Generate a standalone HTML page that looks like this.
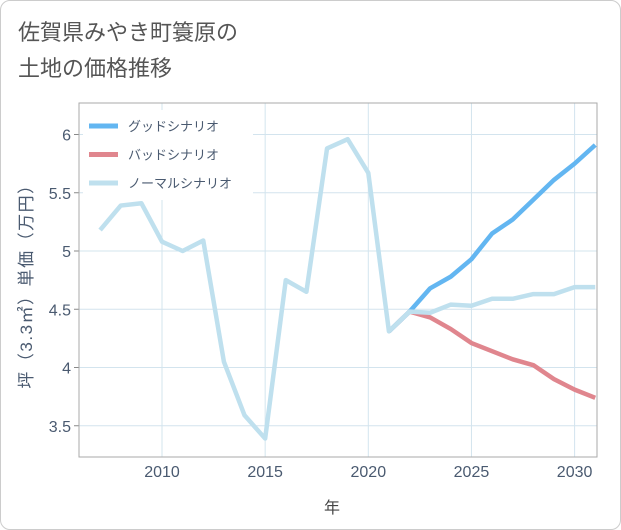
<!DOCTYPE html>
<html><head><meta charset="utf-8"><style>
body{margin:0;background:#fff;font-family:"Liberation Sans","Noto Sans CJK JP",sans-serif;}
#wrap{position:relative;width:619px;height:528px;border:1px solid #ccc;border-radius:10px;background:#fff;overflow:hidden;}
</style></head><body>
<div id="wrap">
<svg id="chart" width="621" height="530" style="position:absolute;left:-1px;top:-1px">
<text x="18" y="40" font-size="22" fill="#555">佐賀県みやき町簑原の</text>
<text x="18" y="76" font-size="22" fill="#555">土地の価格推移</text>
<g id="grid"></g><g id="axes"></g><g id="series"></g><g id="legend"></g>
<text x="332" y="513" font-size="16" fill="#444" text-anchor="middle">年</text>
<text transform="translate(32,282) rotate(-90)" font-size="17" letter-spacing="1.5" fill="#4a5a70" text-anchor="middle">坪（3.3㎡）単価（万円）</text>
</svg>
</div>
<script>
const years=[2007,2008,2009,2010,2011,2012,2013,2014,2015,2016,2017,2018,2019,2020,2021,2022,2023,2024,2025,2026,2027,2028,2029,2030,2031];
const normalVals=[5.18,5.39,5.41,5.08,5.00,5.09,4.05,3.59,3.39,4.75,4.65,5.88,5.96,5.67,4.31,4.48,4.47,4.54,4.53,4.59,4.59,4.63,4.63,4.69,4.69];
const futureYears=[2021,2022,2023,2024,2025,2026,2027,2028,2029,2030,2031];
const goodVals=[4.31,4.48,4.68,4.78,4.93,5.15,5.27,5.44,5.61,5.75,5.91];
const badVals=[4.31,4.48,4.43,4.33,4.21,4.14,4.07,4.02,3.90,3.81,3.74];
const xTicks=[2010,2015,2020,2025,2030];
const yTicks=[3.5,4,4.5,5,5.5,6];
const yTickLabels=["3.5","4","4.5","5","5.5","6"];
const legendLabels=["グッドシナリオ","バッドシナリオ","ノーマルシナリオ"];
const L=79,R=597,T=103,B=457;
const x=v=>162+(v-2010)*20.63;
const y=v=>251-(v-5)*116.5;
const NS="http://www.w3.org/2000/svg";
function mk(p,tag,a){const e=document.createElementNS(NS,tag);for(const k in a)e.setAttribute(k,a[k]);p.appendChild(e);return e;}
const grid=document.getElementById('grid'),axes=document.getElementById('axes'),ser=document.getElementById('series'),leg=document.getElementById('legend');
xTicks.forEach(t=>{const l=mk(grid,'line',{x1:x(t),x2:x(t),y1:T,y2:B,stroke:'#d3e4ee','stroke-width':1});


const tx=mk(axes,'text',{x:x(t),y:477,'font-size':16,fill:'#4a5a70','text-anchor':'middle'});tx.textContent=t;

});
yTicks.forEach((t,i)=>{const l=mk(grid,'line',{x1:L,x2:R,y1:y(t),y2:y(t),stroke:'#d3e4ee','stroke-width':1});


mk(axes,'line',{x1:L-5,x2:L,y1:y(t),y2:y(t),stroke:'#888'});
const tx=mk(axes,'text',{x:L-8,y:y(t)+6,'font-size':16,fill:'#4a5a70','text-anchor':'end'});tx.textContent=yTickLabels[i];

});
const fr=mk(axes,'rect',{x:L,y:T,width:R-L,height:B-T,fill:'none',stroke:'#aaa','stroke-width':1});


function line(xs,vs,c,name){const p=mk(ser,'polyline',{points:xs.map((v,i)=>x(v)+','+y(vs[i])).join(' '),fill:'none',stroke:c,'stroke-width':4.5,'stroke-linejoin':'round'});

}
line(futureYears,badVals,'#e0868e','bad-scenario-line');
line(futureYears,goodVals,'#63b6f1','good-scenario-line');
line(years,normalVals,'#bfe0ee','normal-scenario-line');
const lc=['#63b6f1','#e0868e','#bfe0ee'];
const lb=mk(leg,'rect',{x:83,y:110,width:170,height:90,fill:'#fff'});


legendLabels.forEach((s,i)=>{const yy=126+i*28.5;
const sw=mk(leg,'line',{x1:89,x2:118,y1:yy,y2:yy,stroke:lc[i],'stroke-width':5});


const t=mk(leg,'text',{x:128,y:yy+5,'font-size':13,fill:'#4a5a70'});t.textContent=s;

});
</script>
</body></html>
